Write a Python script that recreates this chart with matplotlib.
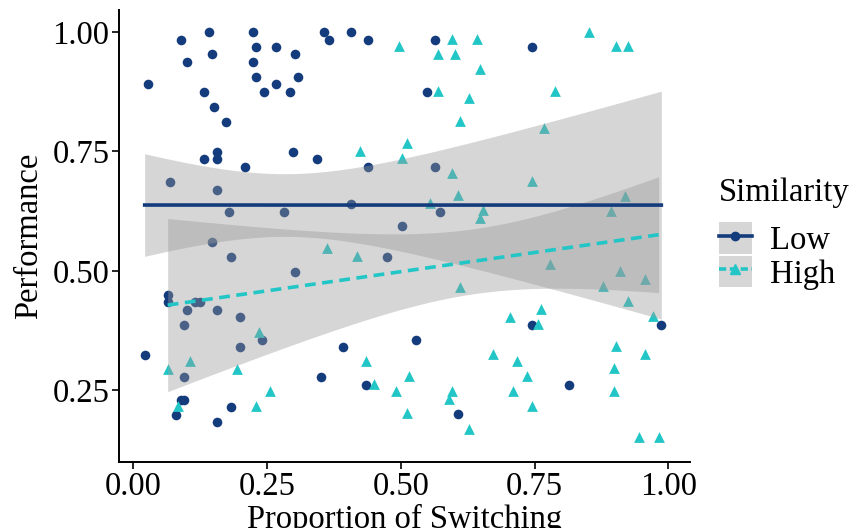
import numpy as np
import matplotlib
matplotlib.use("Agg")
import matplotlib.pyplot as plt
from matplotlib.lines import Line2D
from matplotlib.patches import Patch

plt.rcParams['font.family'] = ['Liberation Serif', 'DejaVu Serif']

# Low similarity (circles)
low_x = [0.027, 0.089, 0.141, 0.224, 0.100, 0.146, 0.230, 0.266, 0.303, 0.224,
         0.230, 0.266, 0.308, 0.245, 0.292, 0.131, 0.151, 0.173, 0.157, 0.131,
         0.157, 0.209, 0.298, 0.344, 0.068, 0.157, 0.178, 0.282, 0.356, 0.366,
         0.407, 0.439, 0.564, 0.548, 0.439, 0.564, 0.407, 0.574, 0.502, 0.746,
         0.146, 0.183, 0.303, 0.064, 0.064, 0.115, 0.125, 0.100, 0.157, 0.199,
         0.094, 0.240, 0.199, 0.021, 0.094, 0.088, 0.094, 0.079, 0.183, 0.157,
         0.350, 0.475, 0.392, 0.528, 0.434, 0.606, 0.746, 0.987, 0.814]
low_y = [0.891, 0.984, 1.000, 1.000, 0.937, 0.953, 0.969, 0.969, 0.953, 0.937,
         0.906, 0.891, 0.906, 0.875, 0.875, 0.875, 0.843, 0.812, 0.749, 0.734,
         0.734, 0.718, 0.749, 0.734, 0.686, 0.670, 0.623, 0.623, 1.000, 0.984,
         1.000, 0.984, 0.984, 0.875, 0.718, 0.718, 0.640, 0.623, 0.593, 0.969,
         0.561, 0.529, 0.498, 0.450, 0.435, 0.435, 0.435, 0.418, 0.418, 0.403,
         0.387, 0.356, 0.340, 0.325, 0.278, 0.230, 0.230, 0.199, 0.215, 0.184,
         0.278, 0.529, 0.340, 0.356, 0.262, 0.200, 0.387, 0.387, 0.262]

# High similarity (triangles)
high_x = [0.496, 0.596, 0.642, 0.569, 0.601, 0.648, 0.569, 0.627, 0.611, 0.423,
          0.512, 0.502, 0.596, 0.606, 0.554, 0.653, 0.648, 0.851, 0.903, 0.925,
          0.789, 0.768, 0.746, 0.919, 0.893, 0.235, 0.064, 0.105, 0.193, 0.256,
          0.229, 0.084, 0.361, 0.418, 0.611, 0.705, 0.673, 0.718, 0.434, 0.516,
          0.449, 0.491, 0.596, 0.590, 0.512, 0.627, 0.710, 0.778, 0.909, 0.956,
          0.878, 0.925, 0.971, 0.762, 0.757, 0.903, 0.956, 0.898, 0.736, 0.898,
          0.746, 0.945, 0.982]
high_y = [0.971, 0.986, 0.986, 0.955, 0.955, 0.923, 0.877, 0.861, 0.814, 0.751,
          0.767, 0.736, 0.704, 0.658, 0.643, 0.627, 0.610, 1.000, 0.971, 0.971,
          0.877, 0.799, 0.688, 0.657, 0.626, 0.373, 0.295, 0.311, 0.295, 0.249,
          0.218, 0.218, 0.547, 0.532, 0.467, 0.404, 0.326, 0.311, 0.311, 0.280,
          0.264, 0.248, 0.248, 0.232, 0.202, 0.170, 0.248, 0.515, 0.500, 0.483,
          0.469, 0.437, 0.405, 0.421, 0.389, 0.343, 0.326, 0.296, 0.280, 0.248,
          0.218, 0.153, 0.153]

low_color = '#143C7C'
high_color = '#22C6C6'
ribbon_color = '#999999'
font_size = 23.5


# linear fit with 95% confidence band, like geom_smooth(method = "lm")
def lm_band(x, y, n_grid=80):
    x = np.asarray(x)
    y = np.asarray(y)
    n = len(x)
    slope, intercept = np.polyfit(x, y, 1)
    resid = y - (intercept + slope * x)
    s = np.sqrt(np.sum(resid ** 2) / (n - 2))
    sxx = np.sum((x - x.mean()) ** 2)
    grid = np.linspace(x.min(), x.max(), n_grid)
    fit = intercept + slope * grid
    se = s * np.sqrt(1.0 / n + (grid - x.mean()) ** 2 / sxx)
    t = 1.998
    return grid, fit, fit - t * se, fit + t * se


fig = plt.figure(figsize=(8.5, 5.28), dpi=100)
ax = fig.add_axes([0.140, 0.125, 0.672, 0.856])

ax.scatter(low_x, low_y, marker='o', s=48, color=low_color, linewidths=0, zorder=2)
ax.scatter(high_x, high_y, marker='^', s=60, color=high_color, linewidths=0, zorder=2)

gx, gfit, glo, ghi = lm_band(low_x, low_y)
ax.fill_between(gx, glo, ghi, color=ribbon_color, alpha=0.4, linewidth=0, zorder=3)
ax.plot(gx, gfit, color=low_color, linewidth=2.6, zorder=4)

hx, hfit, hlo, hhi = lm_band(high_x, high_y)
ax.fill_between(hx, hlo, hhi, color=ribbon_color, alpha=0.4, linewidth=0, zorder=3)
ax.plot(hx, hfit, color=high_color, linewidth=2.6, linestyle=(0, (3, 1.8)), zorder=4)

ax.set_xlim(-0.027, 1.041)
ax.set_ylim(0.100, 1.046)
ax.set_xticks([0.0, 0.25, 0.5, 0.75, 1.0])
ax.set_xticklabels(['0.00', '0.25', '0.50', '0.75', '1.00'])
ax.set_yticks([0.25, 0.5, 0.75, 1.0])
ax.set_yticklabels(['0.25', '0.50', '0.75', '1.00'])

for side in ['top', 'right']:
    ax.spines[side].set_visible(False)
for side in ['left', 'bottom']:
    ax.spines[side].set_linewidth(1.4)
ax.tick_params(axis='both', direction='out', length=5, width=1.2,
               labelsize=font_size, colors='black', pad=2)

ax.set_xlabel('Proportion of Switching', fontsize=font_size, labelpad=1)
ax.set_ylabel('Performance', fontsize=font_size, labelpad=6)

handles = [
    (Patch(facecolor=ribbon_color, alpha=0.4, edgecolor='none'),
     Line2D([], [], color=low_color, linewidth=2.6, marker='o', markersize=6)),
    (Patch(facecolor=ribbon_color, alpha=0.4, edgecolor='none'),
     Line2D([], [], color=high_color, linewidth=2.6, linestyle=(0, (2, 1)),
            marker='^', markersize=7)),
]
fig.text(0.846, 0.635, 'Similarity', fontsize=font_size, ha='left', va='center')
fig.legend(handles, ['Low', 'High'], loc='center left',
           bbox_to_anchor=(0.846, 0.515), frameon=False, fontsize=font_size,
           handlelength=1.0, handleheight=1.1, handletextpad=0.55,
           labelspacing=0.0, borderpad=0.0, borderaxespad=0.0)

fig.savefig('out.png', dpi=100)
